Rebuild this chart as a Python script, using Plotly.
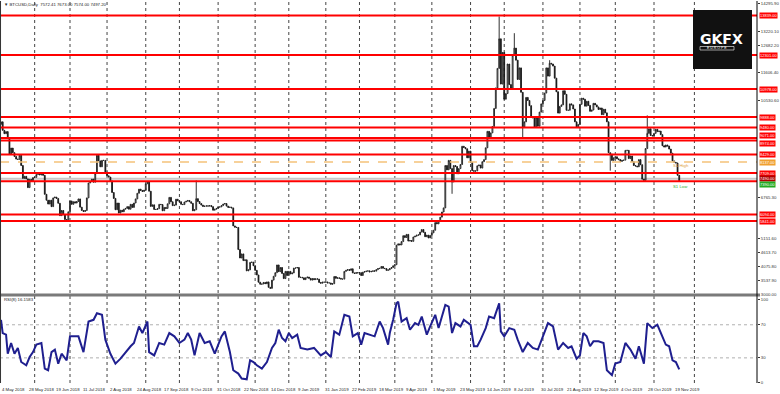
import plotly.graph_objects as go

# ---------------- DATA ----------------
closes = [
    9700,
    9370, 9240, 9320, 9050, 8450,
    8680, 8500, 8350, 8250, 8240,
    8400, 8000, 7500, 7580, 7480,
    7140, 7460, 7400, 7530, 7540,
    7650, 7700, 7630, 7680, 7620,
    6880, 6650, 6500, 6650, 6400,
    6740, 6770, 6720, 6530, 6050,
    6250, 6090, 5900, 5850, 6200,
    6620, 6490, 6590, 6540, 6600,
    6700, 6380, 6250, 6210, 6250,
    6740, 7320, 7380, 7470, 7350,
    7700, 8400, 8180, 7950, 8200,
    8200, 7750, 7600, 7550, 7400,
    6950, 6720, 6280, 6540, 6150,
    6260, 6200, 6300, 6330, 6400,
    6300, 6490, 6370, 6540, 6700,
    6920, 7080, 7030, 6990, 7040,
    7290, 7360, 7000, 6410, 6470,
    6290, 6290, 6320, 6490, 6480,
    6240, 6370, 6330, 6510, 6760,
    6590, 6440, 6460, 6690, 6630,
    6590, 6490, 6480, 6580, 6610,
    6640, 6590, 6530, 6240, 6280,
    6710, 6600, 6520, 6460, 6410,
    6420, 6430, 6420, 6440, 6400,
    6260, 6300, 6330, 6380, 6390,
    6440, 6500, 6520, 6420, 6370,
    6380, 6350, 5650, 5600, 5590,
    4730, 4400, 4560, 4300, 4330,
    3900, 3940, 4230, 4240, 4100,
    3920, 3740, 3460, 3380, 3390,
    3450, 3400, 3470, 3260, 3220,
    3540, 3690, 3830, 4130, 3870,
    4030, 3800, 3600, 3880, 3720,
    3880, 3780, 3820, 4010, 4010,
    4030, 3650, 3650, 3630, 3560,
    3630, 3660, 3610, 3540, 3600,
    3560, 3590, 3580, 3450, 3420,
    3460, 3460, 3470, 3430, 3430,
    3380, 3400, 3680, 3610, 3630,
    3610, 3580, 3580, 3880, 3920,
    3950, 3920, 3980, 3820, 3800,
    3830, 3820, 3830, 3720, 3850,
    3870, 3890, 3900, 3860, 3880,
    3900, 3890, 3950, 3990, 4000,
    4070, 4000, 3990, 3920, 3940,
    3990, 4030, 4100, 4140, 4900,
    4950, 4910, 5040, 5270, 5200,
    5320, 5060, 5080, 5050, 5220,
    5250, 5290, 5300, 5410, 5510,
    5400, 5230, 5290, 5180, 5280,
    5380, 5480, 5780, 5730, 5840,
    5990, 6190, 6350, 8000, 7830,
    8200, 7880, 7360, 8000, 7960,
    7680, 7880, 8040, 8750, 8700,
    8650, 8300, 8560, 8120, 7800,
    7780, 7790, 7990, 8020, 7900,
    8150, 8230, 8690, 9330, 9070,
    9270, 9520, 10220, 11020, 11780,
    12930, 11170, 12400, 10580, 10800,
    11950, 11150, 11000, 12300, 12570,
    12100, 11350, 11800, 10850, 9500,
    9700, 10650, 10530, 10330, 9900,
    9850, 9480, 9880, 9530, 10080,
    10400, 10530, 10820, 11800, 11480,
    11980, 11950, 11870, 11400, 10870,
    10040, 10300, 10360, 10910, 10770,
    10150, 10150, 10400, 10360, 10200,
    9700, 9500, 9600, 10380, 10620,
    10580, 10310, 10500, 10340, 10110,
    10160, 10420, 10360, 10280, 10180,
    10240, 9980, 10190, 10050, 9700,
    8500, 8440, 8200, 8300, 8340,
    8260, 8230, 8160, 8200, 8210,
    8590, 8590, 8270, 8370, 8150,
    8000, 7980, 7950, 8230, 8030,
    7470, 7420, 8660, 9250, 9430,
    9170, 9150, 9250, 9410, 9320,
    9340, 9200, 8770, 8720, 8800,
    8760, 8640, 8480, 8180, 8120,
    8100, 7620, 7400,
]
first_open = 9600

spike_high_bars = [87, 116, 296, 305, 326, 384]
spike_high_vals = [7400, 7420, 13800, 13150, 12100, 9950]
spike_low_bars = [268, 310, 362]
spike_low_vals = [6900, 9100, 7800]

rsi_bars = [0, 1, 3, 4, 6, 8, 10, 12, 15, 17, 19, 21, 24, 26, 28, 30, 32, 34, 36, 39,
            41, 44, 46, 49, 52, 55, 57, 60, 62, 65, 68, 71, 74, 77, 79, 82, 84, 87, 88, 91,
            94, 97, 100, 103, 106, 109, 111, 113, 115, 118, 121, 124, 127, 131, 133, 136, 138, 141, 143, 146,
            148, 150, 152, 155, 158, 161, 163, 165, 167, 169, 171, 173, 176, 178, 182, 186, 190, 193, 196, 198,
            201, 204, 207, 209, 212, 214, 216, 219, 222, 225, 227, 230,
            231, 233, 235, 236, 238, 241, 243, 246, 248, 250, 253, 255, 258, 260, 264, 266, 268, 270, 273, 275,
            279, 281, 283, 285, 288, 290, 293, 296, 297, 299, 302, 305, 307, 310, 313, 316, 319, 322, 325, 328,
            331, 334, 337, 339, 342, 344, 346, 348, 350, 352, 355, 358, 360, 363, 365, 368, 371, 374, 377, 379,
            382, 384, 387, 390, 392, 395, 397, 399, 401, 403]
rsi_vals = [76, 60, 58, 35, 48, 35, 42, 25, 21, 31, 37, 46, 48, 17, 15, 37, 40, 23, 35, 27,
            56, 56, 56, 37, 74, 76, 84, 82, 52, 35, 23, 29, 37, 44, 48, 68, 60, 74, 37, 33,
            48, 46, 60, 56, 48, 52, 60, 52, 33, 60, 48, 50, 35, 56, 62, 37, 15, 11, 5, 4,
            27, 25, 21, 17, 25, 42, 48, 64, 54, 50, 60, 54, 58, 42, 40, 42, 33, 37, 31, 62,
            58, 82, 80, 56, 60, 46, 60, 58, 56, 74, 66, 46,
            60, 76, 96, 98, 74, 78, 64, 72, 70, 80, 58, 68, 82, 66, 94, 92, 60, 72, 68, 76,
            70, 44, 44, 52, 66, 80, 78, 96, 62, 56, 66, 64, 52, 37, 48, 42, 40, 56, 72, 68,
            40, 48, 42, 44, 29, 33, 60, 56, 44, 50, 50, 48, 15, 9, 23, 25, 48, 40, 29, 44,
            23, 72, 66, 70, 60, 46, 44, 27, 25, 16]

red_levels = [13839, 12301, 10978, 9888, 9480, 9071, 8974, 8429, 7709, 6094, 5841]
green_level = 7390
gray_level = 7490
orange_level = 8137

date_labels = ["4 May 2018", "28 May 2018", "19 Jun 2018", "11 Jul 2018", "2 Aug 2018",
               "24 Aug 2018", "17 Sep 2018", "9 Oct 2018", "31 Oct 2018", "22 Nov 2018",
               "14 Dec 2018", "9 Jan 2019", "31 Jan 2019", "22 Feb 2019", "18 Mar 2019",
               "9 Apr 2019", "1 May 2019", "23 May 2019", "14 Jun 2019", "8 Jul 2019",
               "30 Jul 2019", "21 Aug 2019", "12 Sep 2019", "4 Oct 2019", "28 Oct 2019",
               "19 Nov 2019"]
date_label_bars = [16 * i for i in range(len(date_labels))]
month_start_bars = [20, 41, 63, 86, 106, 129, 151, 171, 193, 213, 234, 256, 279, 299,
                    322, 344, 365, 388, 412]

price_ticks = [3000.00, 3537.90, 4075.80, 4613.70, 5151.60, 5689.50, 6227.40, 6765.30,
               7303.20, 7841.10, 8379.00, 8916.90, 9454.80, 9992.70, 10530.60, 11068.50,
               11606.40, 12144.30, 12682.20, 13220.10, 13758.00, 14295.90]
rsi_ticks = [0, 30, 70, 100]

header_text = "\u25BC BTCUSD,Daily  7572.41 7673.00 7574.00 7497.20"
rsi_text = "RSI(8) 16.1583"

# ---------------- BUILD ----------------
bars = list(range(len(closes)))
opens = [first_open] + closes[:-1]
highs = [max(o, c) for o, c in zip(opens, closes)]
lows = [min(o, c) for o, c in zip(opens, closes)]
for b, v in zip(spike_high_bars, spike_high_vals):
    if b < len(highs):
        highs[b] = max(highs[b], v)
for b, v in zip(spike_low_bars, spike_low_vals):
    if b < len(lows):
        lows[b] = min(lows[b], v)

W, H = 780, 394
ML, MR, MT, MB = 0, 23, 1, 11
PW = W - ML - MR
PH = H - MT - MB
PRICE_TOP = 14403.0
PRICE_BOT = 3000.0


def pxx(px):
    return (px - ML) / PW


def pxy(py):
    return (H - MB - py) / PH


main_bottom = pxy(294)
rsi_top = pxy(297)
px_per_price = (294 - MT) / (PRICE_TOP - PRICE_BOT)

label_levels = red_levels + [green_level, gray_level, orange_level]
shown_ticks = [v for v in price_ticks
               if all(abs(v - lv) * px_per_price > 5 for lv in label_levels)]

FONT = "Liberation Sans"
SMALL = 4.3

fig = go.Figure()
fig.add_trace(go.Candlestick(
    x=bars, open=opens, high=highs, low=lows, close=closes,
    increasing=dict(line=dict(color="#1a1a1a", width=0.9), fillcolor="white"),
    decreasing=dict(line=dict(color="#1a1a1a", width=0.9), fillcolor="black"),
    whiskerwidth=0, hoverinfo="skip", xaxis="x", yaxis="y",
))
fig.add_trace(go.Scatter(
    x=rsi_bars, y=rsi_vals, mode="lines",
    line=dict(color="#1f1f8f", width=2), hoverinfo="skip",
    xaxis="x", yaxis="y2",
))

shapes = []
for b in month_start_bars:
    shapes.append(dict(type="line", xref="x", yref="paper", x0=b, x1=b, y0=0, y1=1,
                       line=dict(color="#444444", width=1, dash="dot"), layer="below"))
for lv in (70, 30):
    shapes.append(dict(type="line", xref="paper", yref="y2", x0=0, x1=1, y0=lv, y1=lv,
                       line=dict(color="#b0b0b0", width=1, dash="dot"), layer="below"))
shapes.append(dict(type="line", xref="paper", yref="y", x0=0, x1=1, y0=gray_level, y1=gray_level,
                   line=dict(color="#c8c8c8", width=2), layer="below"))
shapes.append(dict(type="line", xref="paper", yref="y", x0=0, x1=1, y0=orange_level, y1=orange_level,
                   line=dict(color="#f5c27a", width=1.5, dash="dash"), layer="above"))
for lv in red_levels + [green_level]:
    shapes.append(dict(type="line", xref="paper", yref="y", x0=0, x1=1, y0=lv, y1=lv,
                       line=dict(color="#ff0000", width=2), layer="above"))
shapes.append(dict(type="line", xref="paper", yref="paper", x0=0, x1=1.004,
                   y0=pxy(295), y1=pxy(295), line=dict(color="#7a7a7a", width=3)))
shapes.append(dict(type="line", xref="paper", yref="paper", x0=1, x1=1, y0=0, y1=1,
                   line=dict(color="black", width=1)))
shapes.append(dict(type="line", xref="paper", yref="paper", x0=0.0007, x1=0.0007, y0=0, y1=1,
                   line=dict(color="#333333", width=1)))
shapes.append(dict(type="rect", xref="paper", yref="paper", x0=pxx(693), x1=pxx(752),
                   y0=pxy(69), y1=pxy(10), fillcolor="#111111", line=dict(width=0)))
shapes.append(dict(type="rect", xref="paper", yref="paper", x0=pxx(700), x1=pxx(734),
                   y0=pxy(50), y1=pxy(46.5), fillcolor="#111111",
                   line=dict(color="white", width=0.6)))

annotations = []
annotations.append(dict(xref="paper", yref="paper", x=pxx(2), y=pxy(4.5), text=header_text,
                        showarrow=False, xanchor="left", yanchor="middle",
                        font=dict(family=FONT, size=SMALL, color="#222222")))
annotations.append(dict(xref="paper", yref="paper", x=pxx(2), y=pxy(299.5), text=rsi_text,
                        showarrow=False, xanchor="left", yanchor="middle",
                        font=dict(family=FONT, size=SMALL, color="#222222")))
for b, t in zip(date_label_bars, date_labels):
    annotations.append(dict(xref="x", yref="paper", x=b, y=pxy(389), text=t, showarrow=False,
                            xanchor="left", yanchor="middle", xshift=-1,
                            font=dict(family=FONT, size=SMALL, color="#222222")))


def level_box(lv, color, dy=0):
    return dict(xref="paper", yref="y", x=1, y=lv, text="%.2f" % lv, showarrow=False,
                xanchor="left", yanchor="middle", xshift=2, yshift=dy, bgcolor=color,
                borderpad=0, font=dict(family=FONT, size=4, color="white"))


box_shift = {9071: 2.5, 8974: -2.5}
for lv in red_levels:
    annotations.append(level_box(lv, "#ff0000", box_shift.get(lv, 0)))
annotations.append(level_box(orange_level, "#f0a030"))
annotations.append(level_box(gray_level, "#b00000", 0.5))
annotations.append(level_box(green_level, "#22aa22", -3))

annotations.append(dict(xref="paper", yref="paper", x=pxx(671), y=pxy(165), text="S1 High",
                        showarrow=False, xanchor="left", yanchor="middle",
                        font=dict(family=FONT, size=SMALL, color="#e0a040")))
annotations.append(dict(xref="paper", yref="paper", x=pxx(671), y=pxy(186), text="S1 Low",
                        showarrow=False, xanchor="left", yanchor="middle",
                        font=dict(family=FONT, size=SMALL, color="#30b030")))
annotations.append(dict(xref="paper", yref="paper", x=pxx(721), y=pxy(39), text="<b>GKFX</b>",
                        showarrow=False, xanchor="center", yanchor="middle",
                        font=dict(family="DejaVu Sans", size=14, color="white")))
annotations.append(dict(xref="paper", yref="paper", x=pxx(717), y=pxy(48.3), text="E U R O P E",
                        showarrow=False, xanchor="center", yanchor="middle",
                        font=dict(family=FONT, size=3.5, color="white")))

fig.update_layout(
    width=W, height=H,
    margin=dict(l=ML, r=MR, t=MT, b=MB),
    paper_bgcolor="white", plot_bgcolor="white",
    showlegend=False,
    xaxis=dict(range=[-0.6, (PW - 1) / 1.683], showticklabels=False, showgrid=False,
               zeroline=False, showline=False, ticks="", anchor="y2",
               rangeslider=dict(visible=False), fixedrange=True),
    yaxis=dict(domain=[main_bottom, 1], range=[PRICE_BOT, PRICE_TOP], side="right",
               tickvals=shown_ticks, ticktext=["%.2f" % v for v in shown_ticks],
               tickfont=dict(family=FONT, size=SMALL, color="#333333"),
               showgrid=False, zeroline=False, showline=False, ticks="outside",
               ticklen=2, tickcolor="#333333", anchor="x"),
    yaxis2=dict(domain=[0, rsi_top], range=[-0.4, 103.6], side="right",
                tickvals=rsi_ticks, ticktext=[str(v) for v in rsi_ticks],
                tickfont=dict(family=FONT, size=SMALL, color="#333333"),
                showgrid=False, zeroline=False, showline=False, ticks="outside",
                ticklen=2, tickcolor="#333333", anchor="x"),
    shapes=shapes,
    annotations=annotations,
)

fig.write_html(
    "out.html",
    config={"displayModeBar": False},
    post_script="document.body.style.margin='0';document.body.style.overflow='hidden';",
)
